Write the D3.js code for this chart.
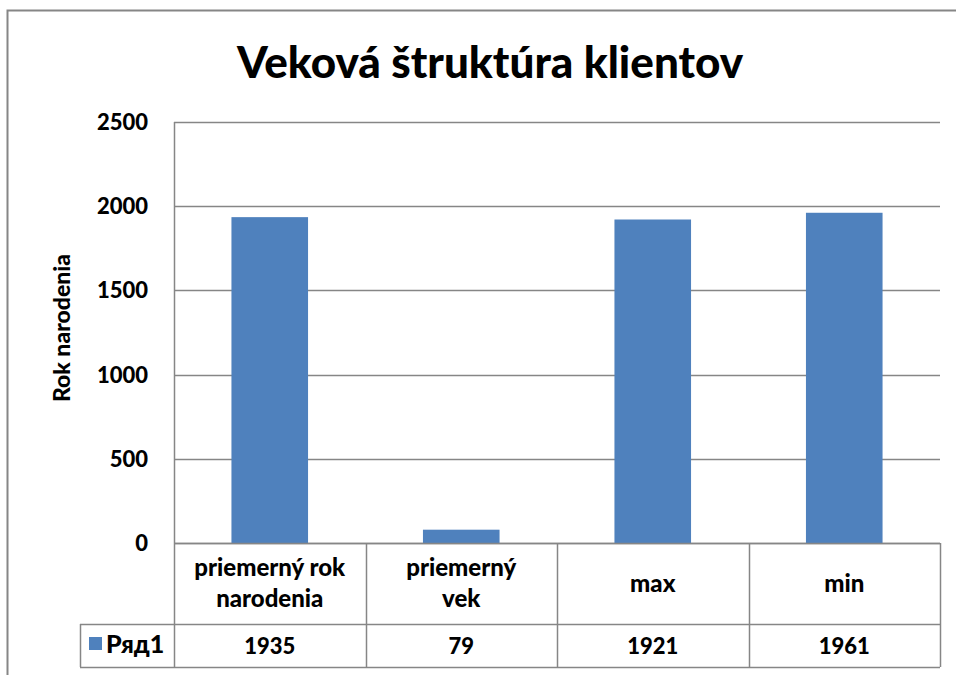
<!DOCTYPE html>
<html>
<head>
<meta charset="utf-8">
<script src="https://cdn.jsdelivr.net/npm/d3@7"></script>
<style>
  body { margin: 0; background: #fff; }
  text { font-family: Lato, "Open Sans", sans-serif; font-weight: 900; fill: #000; }
</style>
</head>
<body>
<div id="chart"></div>
<script>
var width = 956, height = 675;

// data
var categories = ['priemerný rok narodenia', 'priemerný vek', 'max', 'min'];
var categoryLines = [['priemerný rok', 'narodenia'], ['priemerný', 'vek'], ['max'], ['min']];
var values = [1935, 79, 1921, 1961];
var seriesName = 'Ряд1';
var yTicks = [0, 500, 1000, 1500, 2000, 2500];

var plotLeft = 174, plotRight = 940, plotTop = 122, plotBottom = 543;
var catRowBottom = 624, dataRowBottom = 667, legendLeft = 80;

var svg = d3.select('#chart')
    .append('svg')
    .attr('width', width)
    .attr('height', height);

// outer chart border
svg.append('rect')
    .attr('x', 7.5).attr('y', 10.5)
    .attr('width', 960).attr('height', 700)
    .attr('fill', 'none').attr('stroke', '#868686').attr('stroke-width', 2);

svg.append('text')
    .attr('x', 490).attr('y', 78)
    .attr('text-anchor', 'middle')
    .style('font-size', '44px')
    .text('Veková štruktúra klientov');

var x = d3.scaleBand()
    .domain(categories)
    .range([plotLeft, plotRight])
    .paddingInner(0)
    .paddingOuter(0);

var y = d3.scaleLinear()
    .domain([0, 2500])
    .range([plotBottom, plotTop]);

// gridlines
svg.selectAll('.grid')
    .data(yTicks)
    .enter()
    .append('line')
    .attr('x1', plotLeft).attr('x2', plotRight)
    .attr('y1', d => Math.round(y(d)) + 0.5)
    .attr('y2', d => Math.round(y(d)) + 0.5)
    .attr('stroke', '#868686').attr('stroke-width', 1.5);

// y axis line
svg.append('line')
    .attr('x1', plotLeft + 0.5).attr('x2', plotLeft + 0.5)
    .attr('y1', plotTop).attr('y2', plotBottom)
    .attr('stroke', '#868686').attr('stroke-width', 1.5);

// y tick labels
svg.selectAll('.ytick')
    .data(yTicks)
    .enter()
    .append('text')
    .attr('x', 148)
    .attr('y', d => y(d) + 8)
    .attr('text-anchor', 'end')
    .style('font-size', '22px')
    .text(d => d);

svg.append('text')
    .attr('transform', 'translate(70,328) rotate(-90)')
    .attr('text-anchor', 'middle')
    .style('font-size', '23px')
    .text('Rok narodenia');

// bars
var barW = x.bandwidth() * 0.4;
svg.selectAll('.bar')
    .data(values)
    .enter()
    .append('rect')
    .attr('x', (d, i) => x(categories[i]) + (x.bandwidth() - barW) / 2)
    .attr('y', d => y(d))
    .attr('width', barW)
    .attr('height', d => plotBottom - y(d))
    .attr('fill', '#4f81bd');

// data table
var gridColor = '#868686';
[[plotLeft, plotBottom], [legendLeft, catRowBottom], [legendLeft, dataRowBottom]].forEach(function (p) {
    svg.append('line')
        .attr('x1', p[0]).attr('x2', plotRight)
        .attr('y1', p[1] + 0.5).attr('y2', p[1] + 0.5)
        .attr('stroke', gridColor).attr('stroke-width', 1.5);
});
var xs = categories.map(c => x(c)).concat([plotRight]);
svg.selectAll('.vline')
    .data(xs)
    .enter()
    .append('line')
    .attr('x1', d => Math.round(d) + 0.5).attr('x2', d => Math.round(d) + 0.5)
    .attr('y1', plotBottom).attr('y2', dataRowBottom)
    .attr('stroke', gridColor).attr('stroke-width', 1.5);
svg.append('line')
    .attr('x1', legendLeft + 0.5).attr('x2', legendLeft + 0.5)
    .attr('y1', catRowBottom).attr('y2', dataRowBottom)
    .attr('stroke', gridColor).attr('stroke-width', 1.5);

// category labels
categoryLines.forEach(function (lines, i) {
    var cx = x(categories[i]) + x.bandwidth() / 2;
    var midY = (plotBottom + catRowBottom) / 2;
    var t = svg.append('text')
        .attr('text-anchor', 'middle')
        .style('font-size', '24px');
    lines.forEach(function (line, j) {
        t.append('tspan')
            .attr('x', cx)
            .attr('y', midY + 8 + (j - (lines.length - 1) / 2) * 31)
            .text(line);
    });
});

// values row
svg.selectAll('.val')
    .data(values)
    .enter()
    .append('text')
    .attr('x', (d, i) => x(categories[i]) + x.bandwidth() / 2)
    .attr('y', (catRowBottom + dataRowBottom) / 2 + 8)
    .attr('text-anchor', 'middle')
    .style('font-size', '22px')
    .text(d => d);

// legend key
svg.append('rect')
    .attr('x', 89).attr('y', 637)
    .attr('width', 13).attr('height', 13)
    .attr('fill', '#4f81bd');
svg.append('text')
    .attr('x', 106).attr('y', 653)
    .style('font-size', '25px')
    .text(seriesName);
</script>
</body>
</html>
